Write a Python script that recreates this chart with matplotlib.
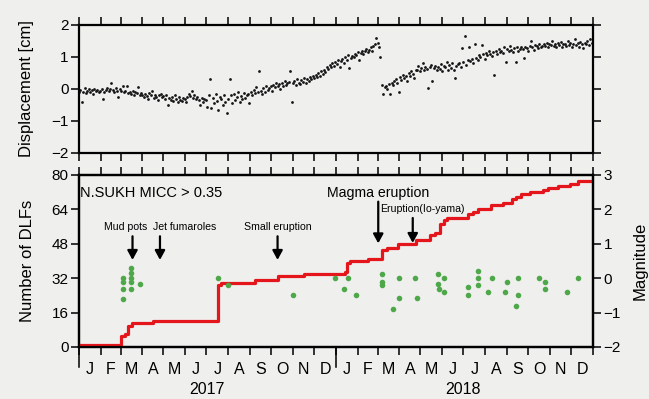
import numpy as np
import matplotlib
matplotlib.use("Agg")
import matplotlib.pyplot as plt
import matplotlib.dates as mdates
from matplotlib.ticker import FixedLocator, NullFormatter

plt.rcParams['font.family'] = ['Liberation Sans', 'DejaVu Sans']

BG = '#efefed'

# displacement [cm], one sample every 2 days from 2017-01-01 (rows ~ 30 days)
disp_start = '2017-01-01'
disp_cm = [
    -0.10, -0.04, -0.40, -0.08, 0.02, -0.12, -0.05, 0.00, -0.09, -0.03, -0.15, 0.01, -0.06, -0.02, -0.08,
    -0.05, 0.00, -0.30, -0.08, -0.02, 0.03, -0.06, 0.00, 0.18, -0.04, -0.10, 0.02, -0.05, -0.25, 0.00,
    -0.05, 0.08, -0.10, -0.06, 0.10, -0.12, -0.08, -0.15, -0.05, -0.20, -0.10, -0.14, 0.05, -0.18, -0.12,
    -0.18, -0.25, -0.15, -0.22, -0.30, -0.12, -0.20, -0.06, -0.28, -0.18, -0.24, -0.35, -0.20, -0.15, -0.26,
    -0.22, -0.30, -0.18, -0.50, -0.28, -0.34, -0.25, -0.38, -0.20, -0.30, -0.42, -0.26, -0.33, -0.36, -0.28,
    -0.32, -0.40, -0.25, -0.15, -0.22, -0.05, -0.28, -0.18, -0.30, -0.25, -0.35, -0.50, -0.28, -0.40, -0.32,
    -0.35, -0.55, -0.20, 0.30, -0.60, -0.28, -0.45, -0.15, -0.38, -0.65, -0.25, -0.30, -0.50, -0.18, -0.40,
    -0.75, -0.30, 0.30, -0.20, -0.45, -0.15, -0.35, -0.25, -0.10, -0.40, -0.22, -0.30, -0.12, -0.28, -0.18,
    -0.15, -0.45, -0.08, -0.20, -0.02, -0.12, 0.05, -0.10, 0.55, -0.05, -0.15, 0.02, -0.08, 0.08, -0.02,
    0.02, 0.10, -0.05, 0.12, 0.05, 0.18, 0.08, 0.15, 0.00, 0.20, 0.10, 0.25, 0.12, 0.18, 0.22,
    0.56, -0.40, 0.18, 0.25, 0.12, 0.30, 0.20, 0.15, 0.28, 0.22, 0.35, 0.18, 0.30, 0.25, 0.38,
    0.30, 0.40, 0.35, 0.45, 0.38, 0.50, 0.42, 0.55, 0.48, 0.60, 0.52, 0.68, 0.62, 0.75, 0.70,
    0.80, 0.72, 0.85, 0.78, 0.92, 0.68, 0.88, 0.95, 0.82, 1.00, 0.90, 1.05, 0.65, 0.98, 1.02,
    1.00, 1.10, 1.05, 1.15, 0.92, 1.12, 1.20, 1.08, 1.18, 1.25, 1.15, 1.22, 1.30, 1.20, 1.35,
    1.40, 1.60, 1.45, 1.30, 1.00, 0.12, -0.16, 0.05, 0.10, 0.00, 0.15, -0.16, 0.20, 0.12, 0.25,
    0.30, 0.20, -0.08, 0.38, 0.28, 0.45, 0.35, 0.40, 0.25, 0.50, 0.42, 0.55, 0.48, 0.35, 0.58,
    0.60, 0.72, 0.55, 0.65, 0.80, 0.58, 0.70, 0.62, 0.04, 0.68, 0.75, 0.25, 0.65, 0.72, 0.60,
    0.70, 0.62, 0.78, 0.55, 0.72, 0.68, 0.85, 0.60, 0.75, 0.65, 0.80, 0.58, 0.35, 0.72, 0.78,
    0.80, 0.70, 1.27, 0.85, 1.65, 0.75, 0.92, 1.30, 0.88, 0.95, 0.82, 1.40, 0.98, 0.90, 1.05,
    1.00, 1.37, 1.08, 0.95, 1.12, 1.05, 1.20, 1.10, 1.02, 1.15, 0.44, 1.18, 1.10, 1.25, 1.15,
    1.20, 1.12, 1.30, 0.85, 1.25, 1.18, 1.35, 1.22, 1.15, 1.28, 0.85, 1.30, 1.20, 1.25, 1.32,
    1.25, 0.96, 1.32, 1.28, 1.20, 1.35, 1.50, 1.30, 1.22, 1.38, 1.33, 1.28, 1.40, 1.30, 1.35,
    1.40, 1.35, 1.45, 1.30, 1.42, 1.38, 1.50, 1.35, 1.40, 1.32, 1.45, 1.38, 1.48, 1.30, 1.42,
    1.42, 1.35, 1.50, 1.38, 1.45, 1.30, 1.40, 1.55, 1.36, 1.44, 1.32, 1.48, 1.40, 1.28, 1.45,
    1.42, 1.50, 1.38, 1.55, 1.45,
]

# cumulative number of DLFs (step curve)
dlf_dates = ['2017-01-01', '2017-03-01', '2017-03-07', '2017-03-12', '2017-03-17', '2017-04-16',
             '2017-07-17', '2017-07-22', '2017-09-08', '2017-10-11', '2017-11-17',
             '2018-01-14', '2018-01-16', '2018-01-21', '2018-02-15', '2018-03-08', '2018-03-14',
             '2018-03-30', '2018-04-25', '2018-05-14', '2018-05-21', '2018-05-28', '2018-06-03',
             '2018-06-07', '2018-07-08', '2018-07-15', '2018-07-22', '2018-08-09', '2018-08-26',
             '2018-09-08', '2018-09-14', '2018-09-21', '2018-10-03', '2018-10-22', '2018-10-29',
             '2018-11-12', '2018-11-29', '2018-12-11', '2019-01-01']
dlf_count = [1, 5, 6, 10, 11, 12,
             29, 30, 31, 33, 34,
             35, 39, 40, 41, 45, 46,
             48, 50, 52, 53, 57, 59,
             60, 62, 63, 64, 66, 67,
             69, 70, 71, 72, 73, 74,
             75, 76, 77, 77]

# magnitudes of DLF events
event_dates = ['2017-03-04'] * 4 + ['2017-03-16'] * 5 + [
    '2017-03-29', '2017-07-17', '2017-07-31', '2017-11-01', '2017-12-31',
    '2018-01-13', '2018-01-18', '2018-01-29', '2018-03-08', '2018-03-08', '2018-03-08',
    '2018-03-23', '2018-03-31', '2018-04-01', '2018-04-23', '2018-04-26',
    '2018-05-26', '2018-05-26', '2018-05-27', '2018-06-04', '2018-06-04',
    '2018-07-07', '2018-07-07', '2018-07-21', '2018-07-21', '2018-07-21',
    '2018-08-05', '2018-08-11', '2018-08-29', '2018-09-01', '2018-09-13',
    '2018-09-17', '2018-09-17', '2018-10-17', '2018-10-25', '2018-10-25',
    '2018-11-25', '2018-12-10']
event_mag = [0.0, -0.1, -0.3, -0.6, 0.3, 0.15, 0.0, -0.1, -0.3,
             -0.18, 0.02, -0.2, -0.49, 0.0,
             -0.3, 0.0, -0.49, 0.11, -0.1, -0.2,
             -0.9, 0.0, -0.58, 0.0, -0.58,
             0.11, -0.17, -0.3, 0.0, -0.4,
             -0.27, -0.49, 0.21, 0.0, -0.2,
             -0.4, 0.0, -0.4, -0.1, -0.8,
             0.0, -0.49, 0.0, -0.1, -0.3,
             -0.4, 0.0]

# volcanic events in 2017: (label, arrow date, label date)
small_events = [('Mud pots', '2017-03-18', '2017-03-08'),
                ('Jet fumaroles', '2017-04-26', '2017-05-31'),
                ('Small eruption', '2017-10-10', '2017-10-10')]

month_letters = ['J', 'F', 'M', 'A', 'M', 'J', 'J', 'A', 'S', 'O', 'N', 'D'] * 2
years = ['2017', '2018']

d = lambda s: mdates.date2num(np.datetime64(s))

x0, x1 = d('2017-01-01'), d('2019-01-01')
month_starts = [d(f'{y}-{m:02d}-01') for y in (2017, 2018) for m in range(1, 13)] + [x1]
month_mids = [(a + b) / 2 for a, b in zip(month_starts[:-1], month_starts[1:])]

fig = plt.figure(figsize=(6.49, 3.99), dpi=100, facecolor=BG)
W, H = 649, 399
ax1 = fig.add_axes([79 / W, (H - 153) / H, 514 / W, 128 / H], facecolor=BG)
ax2 = fig.add_axes([79 / W, (H - 347) / H, 514 / W, 172 / H], facecolor=BG)
ax3 = ax2.twinx()

for a in (ax1, ax2, ax3):
    for s in a.spines.values():
        s.set_linewidth(1.6)
    a.tick_params(which='major', direction='out', length=5.5, width=1.1, labelsize=11, pad=2)

# --- displacement panel
disp_t = np.arange(np.datetime64(disp_start), np.datetime64('2019-01-01'), np.timedelta64(2, 'D'))[:len(disp_cm)]
ax1.scatter(mdates.date2num(disp_t), disp_cm, s=4, color='#151515', linewidths=0)
ax1.set_xlim(x0, x1)
ax1.set_ylim(-2, 2)
ax1.set_yticks([-2, -1, 0, 1, 2])
ax1.set_yticklabels(['\u22122', '\u22121', '0', '1', '2'])
ax1.xaxis.set_major_locator(FixedLocator(month_starts))
ax1.xaxis.set_major_formatter(NullFormatter())
ax1.tick_params(axis='x', top=True, bottom=True)
ax1.tick_params(axis='y', right=True)
ax1.set_ylabel('Displacement [cm]', fontsize=12)
ax1.yaxis.set_label_coords(-0.088, 0.5)

# --- DLF panel
ax2.plot([d(s) for s in dlf_dates], dlf_count, drawstyle='steps-post', color='#e5161b', lw=2.3, zorder=3)
ax3.scatter([d(s) for s in event_dates], event_mag, s=16, color='#4ea84a', linewidths=0, zorder=4)
ax2.set_xlim(x0, x1)
ax2.set_ylim(0, 80)
ax2.set_yticks([0, 16, 32, 48, 64, 80])
ax3.set_ylim(-2, 3)
ax3.set_yticks([-2, -1, 0, 1, 2, 3])
ax3.set_yticklabels(['\u22122', '\u22121', '0', '1', '2', '3'])
ax2.xaxis.set_major_locator(FixedLocator(month_starts))
ax2.xaxis.set_major_formatter(NullFormatter())
ax2.xaxis.set_minor_locator(FixedLocator(month_mids))
ax2.set_xticklabels(month_letters, minor=True)
ax2.tick_params(axis='x', which='minor', length=0, labelsize=11.5, pad=11)
ax2.tick_params(axis='x', which='major', top=True, bottom=True)
ax2.set_ylabel('Number of DLFs', fontsize=12)
ax2.yaxis.set_label_coords(-0.085, 0.5)
ax3.set_ylabel('Magnitude', fontsize=12)
ax3.yaxis.set_label_coords(1.078, 0.5)

# longer ticks at year boundaries
for yb in (d('2017-01-01'), d('2018-01-01')):
    ax2.plot([yb, yb], [0, -0.115], transform=ax2.get_xaxis_transform(), color='k', lw=1.1, clip_on=False)

for y in years:
    ax2.text(d(f'{y}-07-01'), -0.245, y, transform=ax2.get_xaxis_transform(),
             ha='center', va='center', fontsize=11.5)

ax2.text(d('2017-01-03'), 71.5, 'N.SUKH MICC > 0.35', ha='left', va='center', fontsize=10.5)

arrow = dict(arrowstyle='-|>,head_length=0.55,head_width=0.3', color='k', lw=1.6, mutation_scale=10,
             shrinkA=0, shrinkB=0)
for label, arrow_date, text_date in small_events:
    ax2.annotate('', xy=(d(arrow_date), 40.5), xytext=(d(arrow_date), 51.5), arrowprops=arrow)
    ax2.text(d(text_date), 55.8, label, ha='center', va='center', fontsize=7.6)

ax2.annotate('', xy=(d('2018-03-02'), 48.2), xytext=(d('2018-03-02'), 67.6), arrowprops=arrow)
ax2.text(d('2018-03-02'), 71.5, 'Magma eruption', ha='center', va='center', fontsize=10.2)
ax2.annotate('', xy=(d('2018-04-20'), 48.4), xytext=(d('2018-04-20'), 60), arrowprops=arrow)
ax2.text(d('2018-03-04'), 64.2, 'Eruption(Io-yama)', ha='left', va='center', fontsize=7.6)

fig.savefig('out.png', dpi=100, facecolor=BG)
